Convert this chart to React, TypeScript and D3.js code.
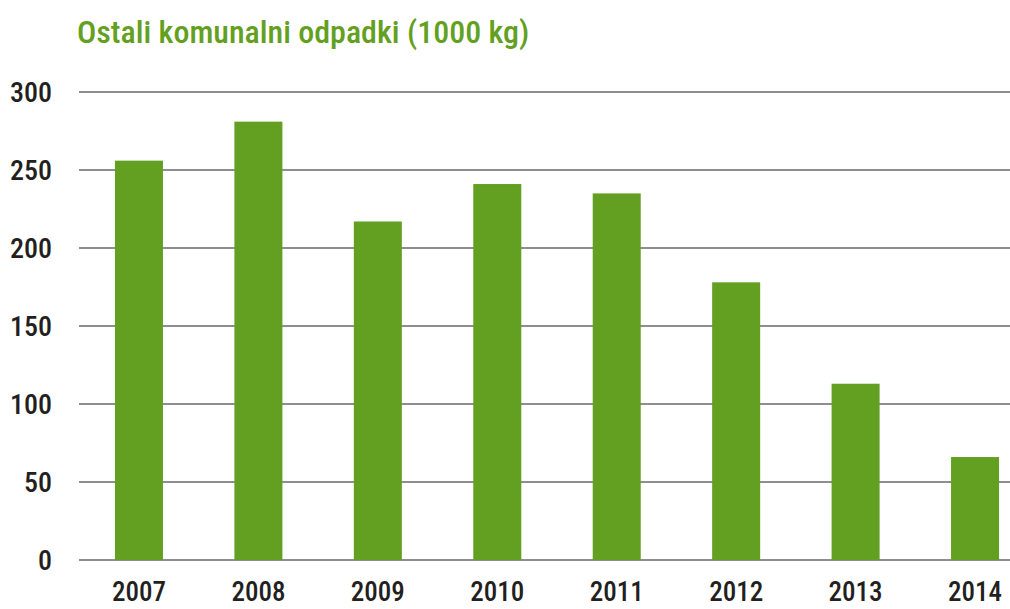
import React from 'react';
import * as d3 from 'd3';

const years = ['2007', '2008', '2009', '2010', '2011', '2012', '2013', '2014'];
const amounts = [256, 281, 217, 241, 235, 178, 113, 66];
const yTicks = [0, 50, 100, 150, 200, 250, 300];

const W = 1010;
const H = 609;
const green = '#63a021';
const font = '"Liberation Sans Narrow", "Roboto Condensed", "Liberation Sans", Arial, sans-serif';

export default function App() {
  const left = 79;
  const y = d3.scaleLinear().domain([0, 300]).range([560, 92]);
  const x = d3.scaleBand<string>()
    .domain(years)
    .range([left, 1035])
    .paddingInner(0.598)
    .paddingOuter(0.301);

  return (
    <svg width={W} height={H} style={{ position: 'absolute', left: 0, top: 0 }}>
      <text x={77} y={43} fill={green} fontFamily={font} fontSize={32} fontWeight={500}>
        Ostali komunalni odpadki (1000 kg)
      </text>
      {yTicks.map(t => (
        <g key={t}>
          <line x1={left} x2={W} y1={y(t)} y2={y(t)} stroke="#8e8e8e" strokeWidth={2} />
          <text x={52} y={y(t) + 10} textAnchor="end" fill="#231f20" fontFamily={font} fontSize={28} fontWeight={500}>
            {t}
          </text>
        </g>
      ))}
      {years.map((yr, i) => (
        <rect key={yr} x={x(yr)} y={y(amounts[i])} width={x.bandwidth()} height={y(0) - y(amounts[i])} fill={green} />
      ))}
      {years.map(yr => (
        <text key={yr} x={(x(yr) as number) + x.bandwidth() / 2} y={601} textAnchor="middle" fill="#231f20" fontFamily={font} fontSize={27} fontWeight={500}>
          {yr}
        </text>
      ))}
    </svg>
  );
}
